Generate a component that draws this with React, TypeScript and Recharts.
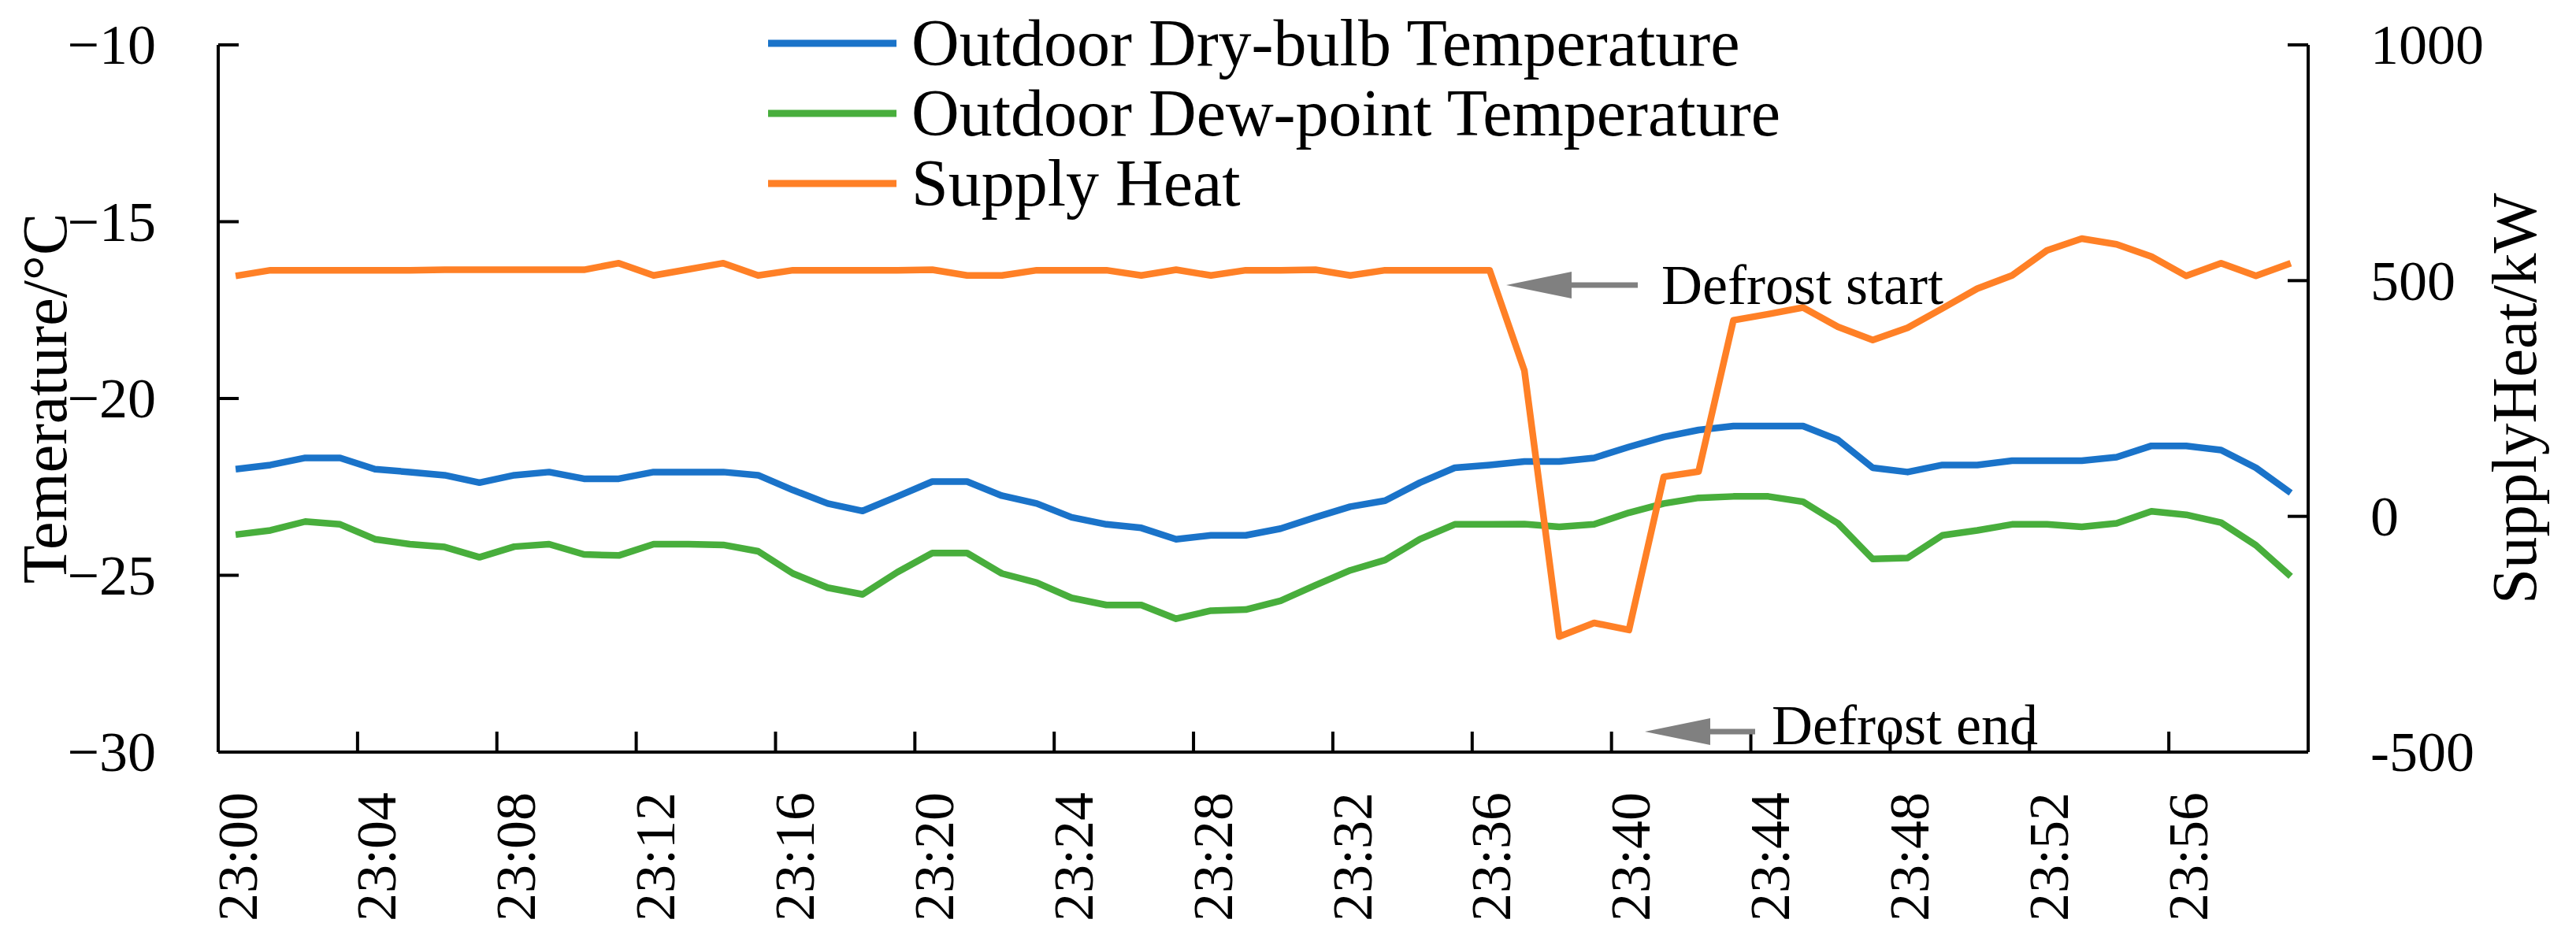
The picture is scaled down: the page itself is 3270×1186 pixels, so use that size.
import React from 'react';
import { LineChart, Line, XAxis, YAxis, Legend } from 'recharts';

// one sample per minute, 23:00 .. 23:59
const times = Array.from({ length: 60 }, (_, i) => `23:${String(i).padStart(2, '0')}`);

const dryBulb = [
  -22.0, -21.88, -21.68, -21.68, -22.0, -22.08, -22.17, -22.38, -22.17, -22.08,
  -22.27, -22.27, -22.08, -22.08, -22.08, -22.17, -22.59, -22.97, -23.18, -22.77,
  -22.35, -22.35, -22.75, -22.97, -23.36, -23.56, -23.66, -23.98, -23.87, -23.87,
  -23.68, -23.36, -23.06, -22.89, -22.38, -21.96, -21.88, -21.78, -21.78, -21.68,
  -21.37, -21.09, -20.89, -20.78, -20.78, -20.78, -21.17, -21.96, -22.08, -21.88,
  -21.88, -21.76, -21.76, -21.76, -21.66, -21.34, -21.34, -21.46, -21.96, -22.67,
];

const dewPoint = [
  -23.85, -23.73, -23.48, -23.56, -23.98, -24.12, -24.2, -24.49, -24.19, -24.12,
  -24.41, -24.44, -24.12, -24.12, -24.14, -24.32, -24.95, -25.35, -25.54, -24.91,
  -24.37, -24.37, -24.95, -25.21, -25.64, -25.84, -25.84, -26.23, -26.0, -25.97,
  -25.72, -25.28, -24.86, -24.57, -23.98, -23.56, -23.56, -23.55, -23.63, -23.56,
  -23.23, -22.97, -22.81, -22.77, -22.77, -22.92, -23.53, -24.54, -24.51, -23.87,
  -23.73, -23.56, -23.56, -23.63, -23.53, -23.19, -23.29, -23.51, -24.15, -25.03,
];

const supplyHeat = [
  510, 522, 522, 522, 522, 522, 523, 523, 523, 523,
  523, 537, 511, 524, 537, 511, 522, 522, 522, 522,
  523, 511, 511, 522, 522, 522, 511, 523, 511, 522,
  522, 523, 511, 522, 522, 522, 522, 309, -255, -226,
  -241, 84, 95, 416, 429, 443, 402, 374, 400, 441,
  483, 511, 564, 589, 577, 551, 510, 537, 510, 537,
];

const tempTicks = [-30, -25, -20, -15, -10];
const heatTicks = [-500, 0, 500, 1000];

const SERIES = [
  { key: 'dry', name: 'Outdoor Dry-bulb Temperature', color: '#1a73c9', axis: 'left' },
  { key: 'dew', name: 'Outdoor Dew-point Temperature', color: '#48ae3c', axis: 'left' },
  { key: 'heat', name: 'Supply Heat', color: '#ff8026', axis: 'right' },
];

const FONT = '"Liberation Serif", "Times New Roman", serif';
const W = 3270;
const H = 1186;
const MARGIN = { top: 57, right: 140, bottom: 31, left: 77 };
const Y_W = 200;
const X_H = 200;
const PLOT_W = W - MARGIN.left - MARGIN.right - 2 * Y_W;
const BAND = PLOT_W / times.length;
const TICK = 26;
const GRAY = '#808080';

const data = times.map((t, i) => ({
  time: t,
  dry: dryBulb[i],
  dew: dewPoint[i],
  heat: supplyHeat[i],
}));

const fmtTemp = (v: number) => (v < 0 ? `\u2212${Math.abs(v)}` : `${v}`);

function LeftTick({ x, y, payload }: any) {
  return (
    <g>
      <line x1={x} x2={x + TICK} y1={y} y2={y} stroke="#000" strokeWidth={4} />
      <text x={x - 79} y={y} dy="0.34em" textAnchor="end" fontFamily={FONT} fontSize={72} fill="#000">
        {fmtTemp(payload.value)}
      </text>
    </g>
  );
}

function RightTick({ x, y, payload }: any) {
  return (
    <g>
      <line x1={x - TICK} x2={x} y1={y} y2={y} stroke="#000" strokeWidth={4} />
      <text x={x + 79} y={y} dy="0.34em" textAnchor="start" fontFamily={FONT} fontSize={72} fill="#000">
        {payload.value}
      </text>
    </g>
  );
}

function TimeTick({ x, y, payload, index }: any) {
  const bx = x - BAND / 2;
  return (
    <g>
      {index > 0 && <line x1={bx} x2={bx} y1={y} y2={y - TICK} stroke="#000" strokeWidth={4} />}
      <text
        transform={`translate(${x + 2},${y + 51}) rotate(-90)`}
        dy="0.34em"
        textAnchor="end"
        fontFamily={FONT}
        fontSize={72}
        fill="#000"
      >
        {payload.value}
      </text>
    </g>
  );
}

// keep the legend in series order (Recharts sorts by name otherwise)
function renderLegend({ payload }: any) {
  const items = SERIES.map((s) => (payload || []).find((p: any) => p.value === s.name)).filter(Boolean);
  return (
    <div style={{ fontFamily: FONT, fontSize: 84, color: '#000' }}>
      {items.map((p: any) => (
        <div key={p.value} style={{ display: 'flex', alignItems: 'center', height: 89 }}>
          <svg width={163} height={10} style={{ display: 'block' }}>
            <line x1={0} x2={163} y1={5} y2={5} stroke={p.color} strokeWidth={9} />
          </svg>
          <span style={{ marginLeft: 19, lineHeight: 1, whiteSpace: 'nowrap' }}>{p.value}</span>
        </div>
      ))}
    </div>
  );
}

function Arrow({ tipX, y, baseX, endX }: { tipX: number; y: number; baseX: number; endX: number }) {
  return (
    <g>
      <line x1={baseX - 2} x2={endX} y1={y} y2={y} stroke={GRAY} strokeWidth={7} />
      <polygon points={`${tipX},${y} ${baseX},${y - 17} ${baseX},${y + 17}`} fill={GRAY} />
    </g>
  );
}

export default function App() {
  if (typeof document !== 'undefined') document.body.style.margin = '0';
  return (
    <div style={{ position: 'relative', width: W, height: H, background: '#fff' }}>
      <LineChart width={W} height={H} data={data} margin={MARGIN}>
        <XAxis
          dataKey="time"
          scale="band"
          interval={3}
          height={X_H}
          stroke="#000"
          strokeWidth={4}
          tickLine={false}
          tickSize={0}
          tickMargin={0}
          tick={<TimeTick />}
        />
        <YAxis
          yAxisId="left"
          domain={[-30, -10]}
          ticks={tempTicks}
          allowDataOverflow
          width={Y_W}
          stroke="#000"
          strokeWidth={4}
          tickLine={false}
          tickSize={0}
          tickMargin={0}
          tick={<LeftTick />}
          label={(p: any) => {
            const vb = p.viewBox || {};
            const cy = vb.y + vb.height / 2;
            return (
              <text
                transform={`translate(${vb.x + 7},${cy}) rotate(-90)`}
                textAnchor="middle"
                fontFamily={FONT}
                fontSize={80}
                fill="#000"
              >
                Temerature/°C
              </text>
            );
          }}
        />
        <YAxis
          yAxisId="right"
          orientation="right"
          domain={[-500, 1000]}
          ticks={heatTicks}
          allowDataOverflow
          width={Y_W}
          stroke="#000"
          strokeWidth={4}
          tickLine={false}
          tickSize={0}
          tickMargin={0}
          tick={<RightTick />}
          label={(p: any) => {
            const vb = p.viewBox || {};
            const cy = vb.y + vb.height / 2;
            return (
              <text
                transform={`translate(${vb.x + 289},${cy}) rotate(-90)`}
                textAnchor="middle"
                fontFamily={FONT}
                fontSize={81}
                fill="#000"
              >
                SupplyHeat/kW
              </text>
            );
          }}
        />
        <Legend
          layout="vertical"
          align="center"
          verticalAlign="middle"
          content={renderLegend}
          wrapperStyle={{ left: 975, top: 10, width: 1400, height: 270 }}
        />
        {SERIES.map((s) => (
          <Line
            key={s.key}
            yAxisId={s.axis}
            dataKey={s.key}
            name={s.name}
            stroke={s.color}
            strokeWidth={8.5}
            strokeLinejoin="round"
            dot={false}
            activeDot={false}
            type="linear"
            isAnimationActive={false}
          />
        ))}
      </LineChart>
      <svg width={W} height={H} style={{ position: 'absolute', left: 0, top: 0, pointerEvents: 'none' }}>
        <Arrow tipX={1912} baseX={1995} endX={2079} y={362} />
        <text x={2109} y={386} fontFamily={FONT} fontSize={72} fill="#000">
          Defrost start
        </text>
        <Arrow tipX={2088} baseX={2171} endX={2228} y={929} />
        <text x={2249} y={945} fontFamily={FONT} fontSize={72} fill="#000">
          Defrost end
        </text>
      </svg>
    </div>
  );
}
